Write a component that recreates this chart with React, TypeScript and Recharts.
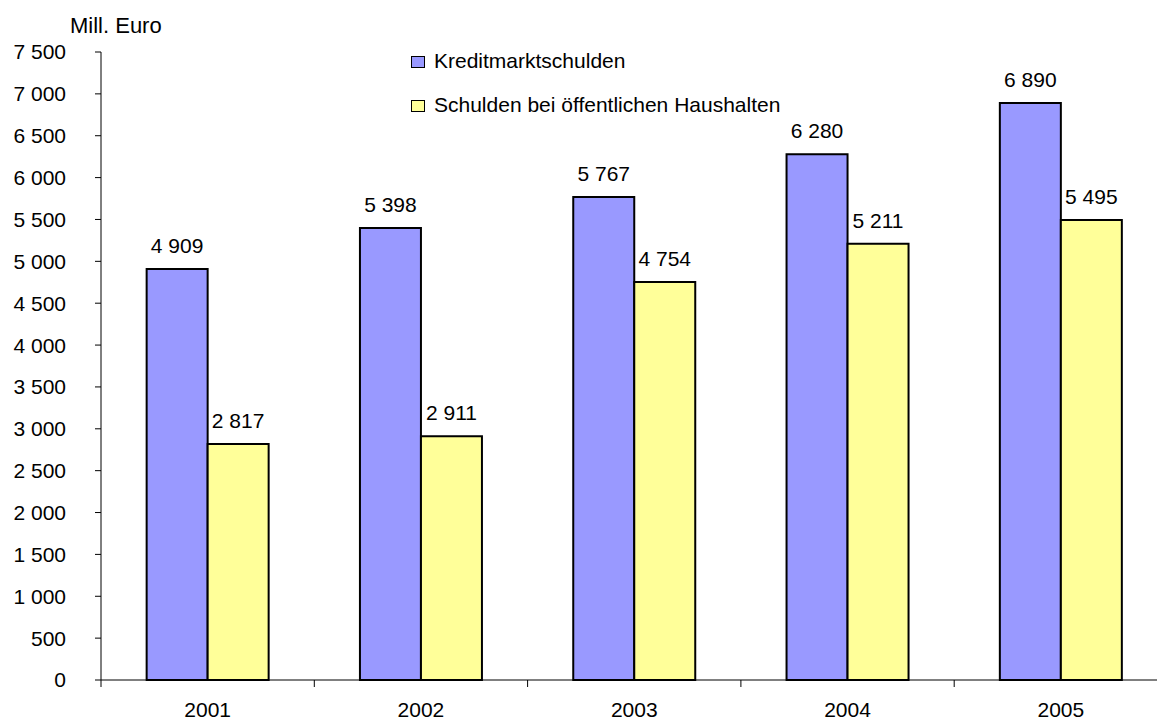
import React from 'react';
import { BarChart, Bar, XAxis, YAxis, Legend, LabelList } from 'recharts';

const YEARS = ['2001', '2002', '2003', '2004', '2005'];
const KREDITMARKT = [4909, 5398, 5767, 6280, 6890];
const OEFFENTLICH = [2817, 2911, 4754, 5211, 5495];
const Y_TICKS = [0, 500, 1000, 1500, 2000, 2500, 3000, 3500, 4000, 4500, 5000, 5500, 6000, 6500, 7000, 7500];

const SERIES = [
  { key: 'kredit', name: 'Kreditmarktschulden', color: '#9999FF' },
  { key: 'oeff', name: 'Schulden bei öffentlichen Haushalten', color: '#FFFF99' }
];

const FONT = '"Liberation Sans", Arial, sans-serif';
const CHART_W = 1170;
const CHART_H = 722;
const PLOT_LEFT = 101;
const PLOT_RIGHT = 1167.5;

const data = YEARS.map((year, i) => ({
  year,
  kredit: KREDITMARKT[i],
  oeff: OEFFENTLICH[i]
}));

// thousands with a space, German style
const fmt = (v: number) => String(v).replace(/\B(?=(\d{3})+(?!\d))/g, ' ');

// Excel-style category axis: tick marks sit between the categories
const YearTick = (props: any) => {
  const { x, y, payload, index } = props;
  const band = (PLOT_RIGHT - PLOT_LEFT) / YEARS.length;
  return (
    <g>
      <line x1={x - band / 2} x2={x - band / 2} y1={y} y2={y + 7} stroke="#000" strokeWidth={1} />
      {index === YEARS.length - 1 && (
        <line x1={x + band / 2} x2={x + band / 2} y1={y} y2={y + 7} stroke="#000" strokeWidth={1} />
      )}
      <text x={x} y={y + 37} textAnchor="middle" fill="#000" fontSize={21} fontFamily={FONT}>
        {payload.value}
      </text>
    </g>
  );
};

const LegendBox = ({ payload }: any) => (
  <div style={{ fontFamily: FONT, fontSize: 21, lineHeight: '44px', color: '#000' }}>
    {(payload || []).map((p: any) => (
      <div key={p.value} style={{ display: 'flex', alignItems: 'center', whiteSpace: 'nowrap' }}>
        <span
          style={{
            display: 'inline-block',
            boxSizing: 'border-box',
            width: 14,
            height: 12,
            border: '1.5px solid #000',
            background: p.color,
            marginRight: 9,
            marginTop: 2
          }}
        />
        <span>{p.value}</span>
      </div>
    ))}
  </div>
);

export default function App() {
  return (
    <div
      style={{
        position: 'absolute',
        left: 0,
        top: 0,
        width: 1157,
        height: 722,
        overflow: 'hidden',
        background: '#fff'
      }}
    >
      <BarChart
        width={CHART_W}
        height={CHART_H}
        data={data}
        margin={{ top: 52, right: CHART_W - PLOT_RIGHT, bottom: 0, left: 0 }}
        barCategoryGap="21.4%"
        barGap={0}
      >
        <XAxis
          dataKey="year"
          height={42}
          axisLine={{ stroke: '#000', strokeWidth: 1 }}
          tickLine={false}
          tickSize={0}
          tickMargin={0}
          tick={<YearTick />}
          interval={0}
        />
        <YAxis
          width={PLOT_LEFT}
          domain={[0, 7500]}
          ticks={Y_TICKS}
          interval={0}
          tickFormatter={fmt}
          axisLine={{ stroke: '#000', strokeWidth: 1 }}
          tickLine={{ stroke: '#000', strokeWidth: 1 }}
          tickSize={6}
          tickMargin={29}
          tick={{ fill: '#000', fontSize: 21, fontFamily: FONT }}
        />
        <Legend
          layout="vertical"
          align="center"
          verticalAlign="middle"
          content={<LegendBox />}
          wrapperStyle={{ left: 411, top: 39, width: 'auto' }}
        />
        {SERIES.map(s => (
          <Bar
            key={s.key}
            dataKey={s.key}
            name={s.name}
            fill={s.color}
            stroke="#000"
            strokeWidth={2}
            isAnimationActive={false}
          >
            <LabelList
              dataKey={s.key}
              position="top"
              offset={16}
              formatter={(v: any) => fmt(Number(v))}
              fill="#000"
              fontSize={21}
              fontFamily={FONT}
            />
          </Bar>
        ))}
      </BarChart>
      <div
        style={{
          position: 'absolute',
          left: 70,
          top: 14,
          fontFamily: FONT,
          fontSize: 22,
          lineHeight: '24px',
          color: '#000',
          whiteSpace: 'nowrap'
        }}
      >
        Mill. Euro
      </div>
    </div>
  );
}
